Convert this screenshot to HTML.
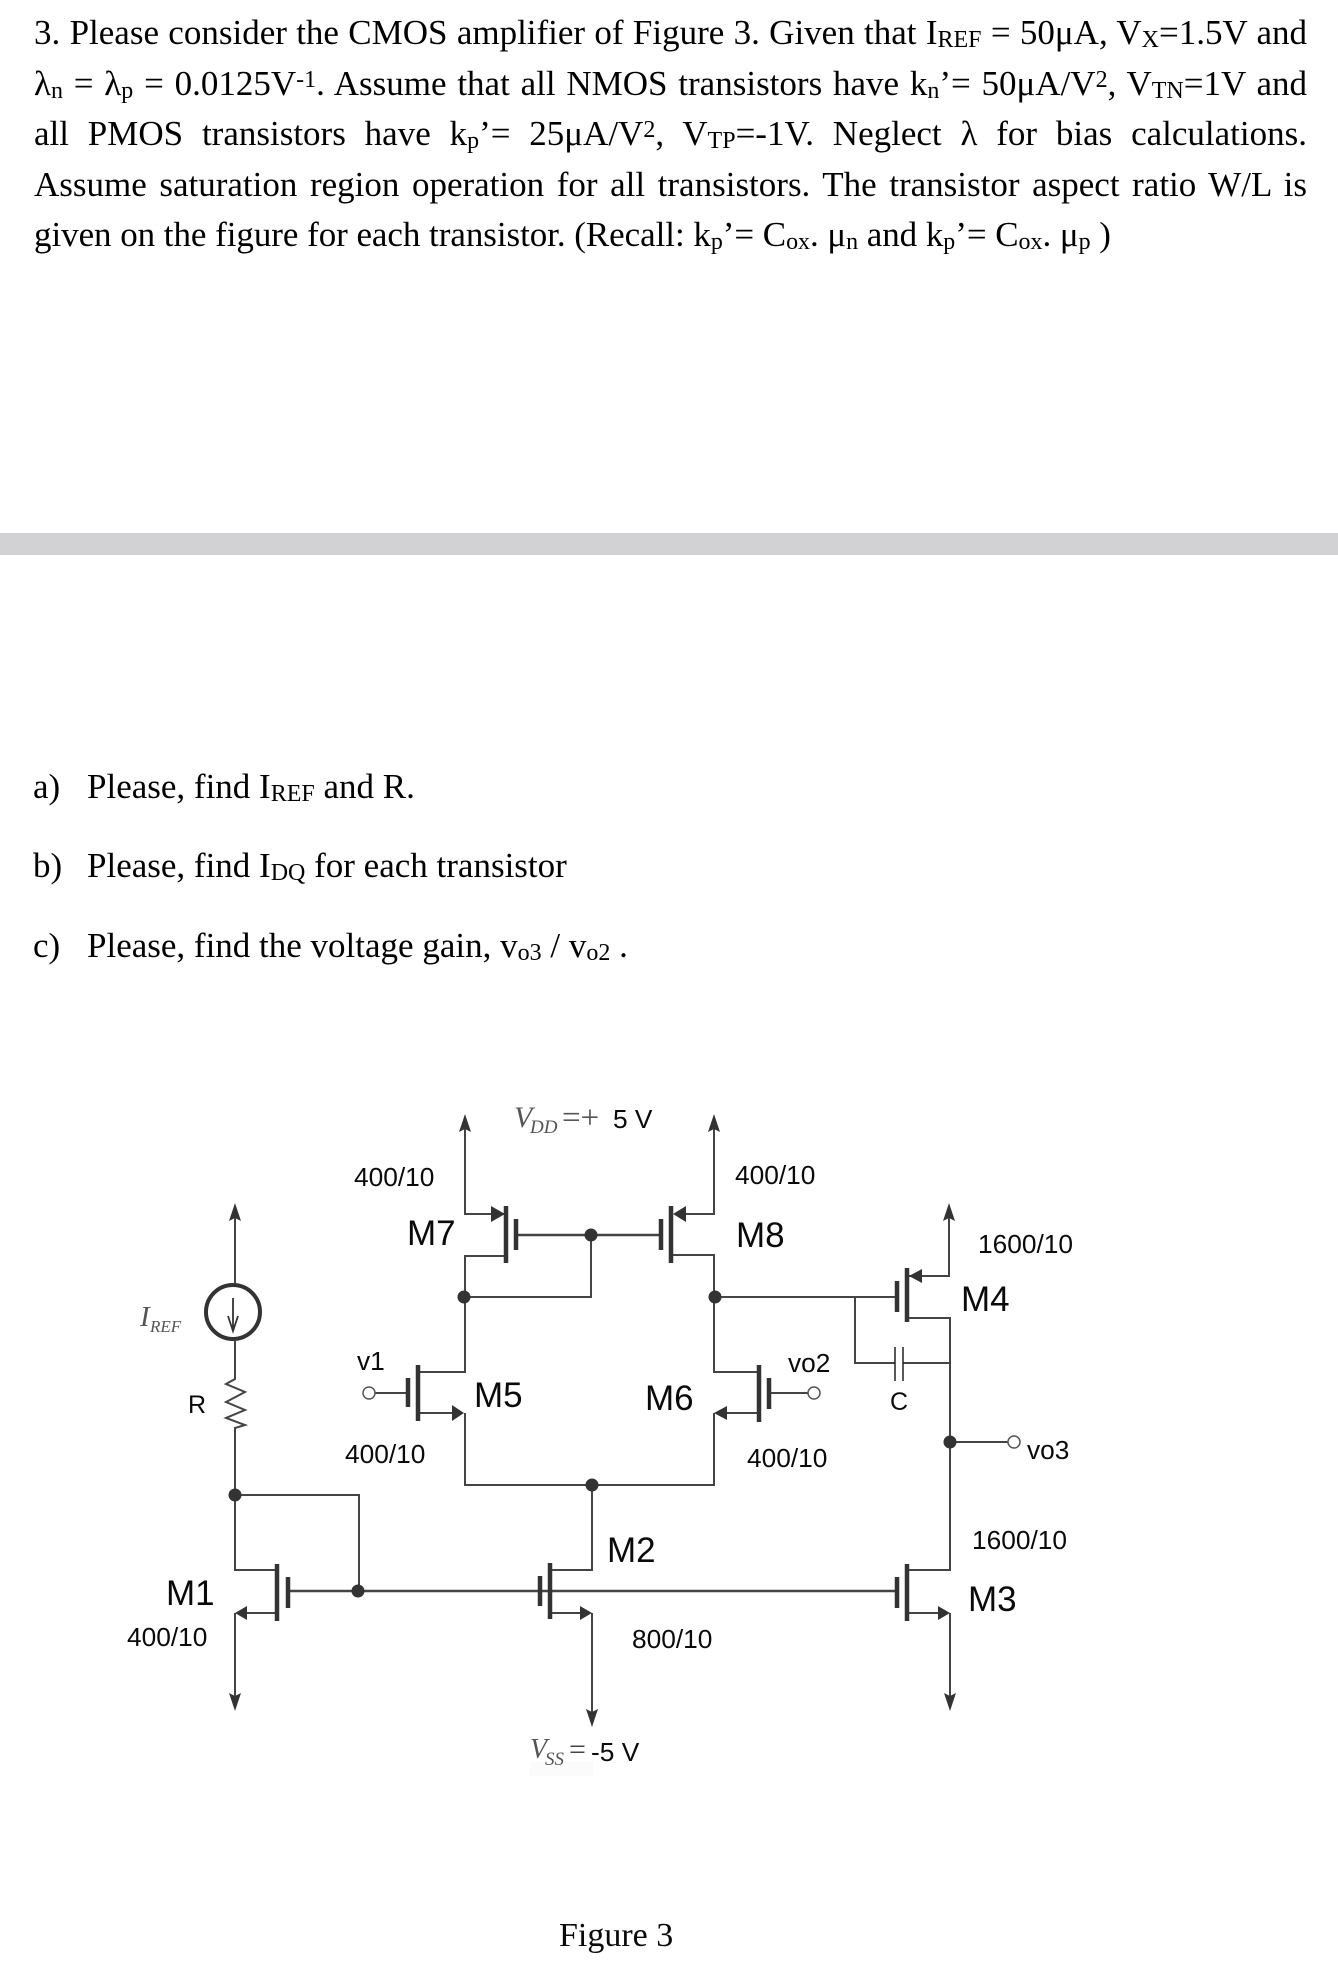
<!DOCTYPE html>
<html><head><meta charset="utf-8"><style>
html,body{margin:0;padding:0;background:#fff}
#p{position:relative;width:1338px;height:1973px;overflow:hidden;background:#fff;font-family:"Liberation Serif",serif;color:#000}
.l{position:absolute;left:34px;width:1273px;font-size:35px;line-height:40px;white-space:nowrap;text-align:justify;text-align-last:justify}
.q{position:absolute;font-size:35px;line-height:40px;white-space:nowrap}
.l sub,.q sub{font-size:24px;line-height:0;vertical-align:baseline;position:relative;top:3px}
.l sup{font-size:24px;line-height:0;vertical-align:baseline;position:relative;top:-8px}
svg{position:absolute;left:0;top:0}
svg text{font-family:"Liberation Sans",sans-serif;fill:#0a0a0a}
svg .s{font-family:"Liberation Serif",serif;font-style:italic;fill:#555}
</style></head><body><div id="p">
<div class="l" style="top:13px">3. Please consider the CMOS amplifier of Figure 3. Given that I<sub>REF</sub> = 50μA, V<sub>X</sub>=1.5V and</div>
<div class="l" style="top:64px">λ<sub>n</sub> = λ<sub>p</sub> = 0.0125V<sup>-1</sup>. Assume that all NMOS transistors have k<sub>n</sub>’= 50μA/V<sup>2</sup>, V<sub>TN</sub>=1V and</div>
<div class="l" style="top:114px">all PMOS transistors have k<sub>p</sub>’= 25μA/V<sup>2</sup>, V<sub>TP</sub>=-1V. Neglect λ for bias calculations.</div>
<div class="l" style="top:165px">Assume saturation region operation for all transistors. The transistor aspect ratio W/L is</div>
<div class="q" style="top:215px;left:34px;letter-spacing:-0.05px">given on the figure for each transistor. (Recall: k<sub>p</sub>’= C<sub>ox</sub>. μ<sub>n</sub> and k<sub>p</sub>’= C<sub>ox</sub>. μ<sub>p</sub> )</div>
<div style="position:absolute;left:0;top:533px;width:1338px;height:22px;background:#d2d2d4"></div>
<div class="q" style="top:767px;left:33px">a)</div><div class="q" style="top:767px;left:87px">Please, find I<sub>REF</sub> and R.</div>
<div class="q" style="top:846px;left:33px">b)</div><div class="q" style="top:846px;left:87px">Please, find I<sub>DQ</sub> for each transistor</div>
<div class="q" style="top:926px;left:33px">c)</div><div class="q" style="top:926px;left:87px">Please, find the voltage gain, v<sub>o3</sub> / v<sub>o2</sub> .</div>

<svg width="1338" height="1973" viewBox="0 0 1338 1973" xmlns="http://www.w3.org/2000/svg">
<rect x="530" y="1762" width="63" height="14" fill="#fbfbfb"/>
<g fill="none" stroke="#444" stroke-width="2">
<path d="M235 1210V1283M235 1341V1379L226 1384 245 1392 226 1402 245 1410 226 1418 245 1425 235 1428V1570H278M235 1495H359V1591M247 1613H277M235 1613V1705"/>
<path d="M465 1120V1214H504M507 1256H465V1372H418M465 1297H591V1235"/>
<path d="M714 1120V1214H686M672 1255H714V1372H759M714 1297H897"/>
<path d="M419 1413H452M465 1413V1485H714V1413M727 1413H759M592 1485V1570H551M551 1613H580M592 1613V1721"/>
<path d="M909 1276H949V1210M908 1318H950V1570H908M908 1613H938M950 1613V1705"/>
<path d="M855 1297V1363H895M903 1363H950"/>
<path d="M950 1442H1008M375 1393H408M769 1393H808"/>
</g>
<path d="M288 1591H897M517 1235H661" fill="none" stroke="#444" stroke-width="2.5"/>
<g fill="none" stroke="#333" stroke-width="4.5">
<path d="M506 1206V1263M516 1219V1250M671 1206V1263M661 1219V1250"/>
<path d="M418 1365V1421M408 1378V1407M759 1365V1422M769 1378V1409"/>
<path d="M907 1268V1322M897 1281V1312"/>
<path d="M277 1564V1621M288 1577V1608M550 1563V1619M540 1576V1606M907 1564V1621M897 1577V1608"/>
</g>
<g fill="none" stroke="#222" stroke-width="1.5"><path d="M895 1347V1381M903 1347V1381"/></g>
<g fill="#333">
<path d="M465 1114L471 1132 465 1129 459 1132Z"/>
<path d="M714 1114L720 1132 714 1129 708 1132Z"/>
<path d="M235 1203L241 1221 235 1218 229 1221Z"/>
<path d="M949 1203L955 1221 949 1218 943 1221Z"/>
<path d="M235 1711L241 1693 235 1696 229 1693Z"/>
<path d="M592 1727L598 1709 592 1712 586 1709Z"/>
<path d="M950 1711L956 1693 950 1696 944 1693Z"/>
<path d="M505 1214L491 1206V1222Z"/>
<path d="M673 1214L686 1206V1222Z"/>
<path d="M909 1276L922 1269V1283Z"/>
<path d="M464 1413L452 1405V1421Z"/>
<path d="M714 1413L727 1406V1420Z"/>
<path d="M235 1613L247 1606V1620Z"/>
<path d="M592 1613L580 1606V1620Z"/>
<path d="M950 1613L938 1606V1620Z"/>
<circle cx="591" cy="1235" r="6.5"/><circle cx="464" cy="1297" r="6.5"/><circle cx="715" cy="1297" r="6.5"/>
<circle cx="592" cy="1485" r="6.5"/><circle cx="235" cy="1495" r="6.5"/><circle cx="358" cy="1591" r="6.5"/><circle cx="950" cy="1442" r="6.5"/>
</g>
<circle cx="233" cy="1312" r="27" fill="#fff" stroke="#333" stroke-width="4"/>
<path d="M233 1298V1329M228 1316L233 1331 238 1316" fill="none" stroke="#333" stroke-width="1.8"/>
<g fill="#fff" stroke="#555" stroke-width="1.5"><circle cx="369" cy="1393" r="6"/><circle cx="814" cy="1393" r="6"/><circle cx="1014" cy="1442" r="6"/></g>

<g font-size="26.3">
<text x="354" y="1186">400/10</text><text x="345" y="1463">400/10</text>
<text x="735" y="1184">400/10</text><text x="747" y="1467">400/10</text>
<text x="978" y="1253">1600/10</text><text x="972" y="1549">1600/10</text>
<text x="127" y="1646">400/10</text><text x="632" y="1648">800/10</text>
<text x="788" y="1372">vo2</text><text x="1027" y="1459">vo3</text>
<text x="357" y="1370">v1</text><text x="188" y="1413" font-size="25">R</text><text x="890" y="1410" font-size="25">C</text>
<text x="613" y="1128">5 V</text><text x="591" y="1761">-5 V</text>
</g>
<g font-size="35">
<text x="407" y="1245">M7</text><text x="474" y="1407">M5</text><text x="645" y="1410">M6</text>
<text x="736" y="1247">M8</text><text x="961" y="1311">M4</text><text x="607" y="1562">M2</text>
<text x="166" y="1605">M1</text><text x="968" y="1611">M3</text>
</g>
<text class="s" x="514" y="1127" font-size="30">V</text><text class="s" x="530" y="1133" font-size="19">DD</text>
<text x="562" y="1128" font-size="33" style="font-family:'Liberation Serif',serif;fill:#555">=+</text>
<text class="s" x="140" y="1326" font-size="29">I</text><text class="s" x="150" y="1332" font-size="17">REF</text>
<text class="s" x="530" y="1758" font-size="28">V</text><text class="s" x="545" y="1765" font-size="19">SS</text>
<text x="569" y="1759" font-size="30" style="font-family:'Liberation Serif',serif;fill:#444">=</text>
<text x="559" y="1946" font-size="34" style="font-family:'Liberation Serif',serif">Figure 3</text>
</svg>
</div></body></html>
